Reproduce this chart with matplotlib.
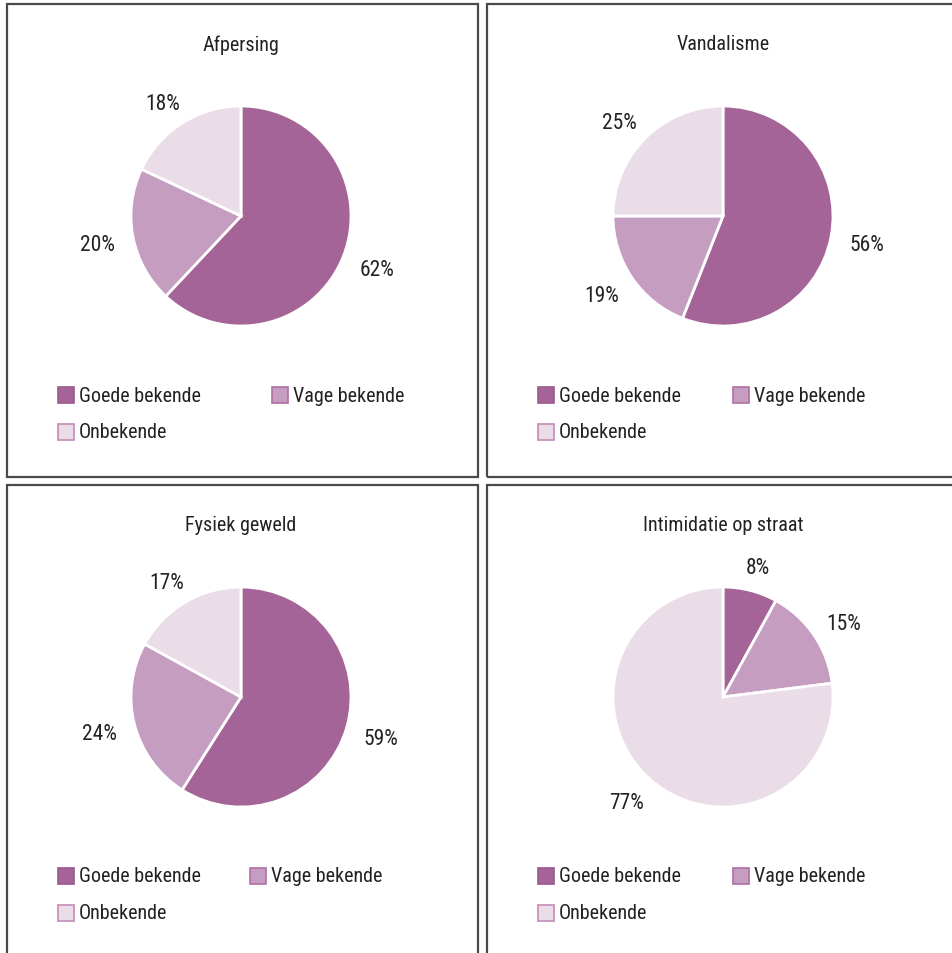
import os
import numpy as np
import matplotlib.pyplot as plt
from matplotlib.patches import Rectangle
from matplotlib import font_manager

W, H = 952, 954

titles = ['Afpersing', 'Vandalisme', 'Fysiek geweld', 'Intimidatie op straat']
categories = ['Goede bekende', 'Vage bekende', 'Onbekende']
afpersing = [62, 20, 18]
vandalisme = [56, 19, 25]
fysiek_geweld = [59, 24, 17]
intimidatie = [8, 15, 77]
series = [afpersing, vandalisme, fysiek_geweld, intimidatie]

colors = ['#A46497', '#C59DC0', '#EADDE8']
edge_colors = ['#9A5A8E', '#B06FA4', '#C48BB8']

# look for a narrow / condensed sans face, like the original
prefs = ['LiberationSansNarrow-Regular', 'RobotoCondensed-Regular', 'Roboto_Condensed-Regular',
         'DejaVuSansCondensed.']
files = [f.fname for f in font_manager.fontManager.ttflist]
for p in prefs:
    hits = [f for f in files if p in os.path.basename(f)]
    if hits:
        fp = font_manager.FontProperties(fname=hits[0])
        plt.rcParams['font.family'] = [fp.get_name(), 'DejaVu Sans']
        break

plt.rcParams['text.color'] = '#222222'

fig = plt.figure(figsize=(W / 100, H / 100), dpi=100)


def fx(x):
    return x / W


def fy(y):
    return 1 - y / H


fs = 14.5

# panel boxes (pixel coordinates: left, top, right, bottom)
boxes = [(7, 5, 478, 478), (487, 5, 960, 478), (7, 486, 478, 962), (487, 486, 960, 962)]
for l, t, r, b in boxes:
    fig.add_artist(Rectangle((fx(l), fy(b)), fx(r - l), (b - t) / H, transform=fig.transFigure,
                             fill=False, edgecolor='#4a4a4a', linewidth=1.6, clip_on=False))

centers = [(241, 217), (723, 217), (241, 698), (723, 698)]
legend_col2 = [272, 733, 250, 733]
radius = 110

for i, (vals, title) in enumerate(zip(series, titles)):
    cx, cy = centers[i]
    ax = fig.add_axes([fx(cx - radius), fy(cy + radius), 2 * radius / W, 2 * radius / H])
    wedges, _ = ax.pie(vals, colors=colors, startangle=90, counterclock=False, radius=1,
                       wedgeprops=dict(edgecolor='white', linewidth=2))
    ax.set_xlim(-1, 1)
    ax.set_ylim(-1, 1)
    ax.axis('off')

    # outside-end labels: anchor just outside the rim, text box pushed outwards
    for w, v in zip(wedges, vals):
        th = np.deg2rad((w.theta1 + w.theta2) / 2)
        c, s = np.cos(th), np.sin(th)
        txt = f'{v}%'
        half_w = 5.8 * len(txt)
        ax.annotate(txt, xy=(1.17 * c, 1.17 * s), xytext=(half_w * c, 8 * s - 3),
                    textcoords='offset pixels', ha='center', va='center', fontsize=15.5,
                    annotation_clip=False)

    l, t = boxes[i][0], boxes[i][1]
    fig.text(fx(cx), fy(t + 40), title, ha='center', va='center', fontsize=fs)

    # legend
    rows = [(l + 51, t + 391), (legend_col2[i], t + 391), (l + 51, t + 428)]
    for (lx, ly), cat, col, ec in zip(rows, categories, colors, edge_colors):
        fig.add_artist(Rectangle((fx(lx), fy(ly + 8)), 16 / W, 16 / H, transform=fig.transFigure,
                                 facecolor=col, edgecolor=ec, linewidth=1.2))
        fig.text(fx(lx + 21), fy(ly), cat, ha='left', va='center', fontsize=fs)

fig.savefig('out.png', dpi=100)
